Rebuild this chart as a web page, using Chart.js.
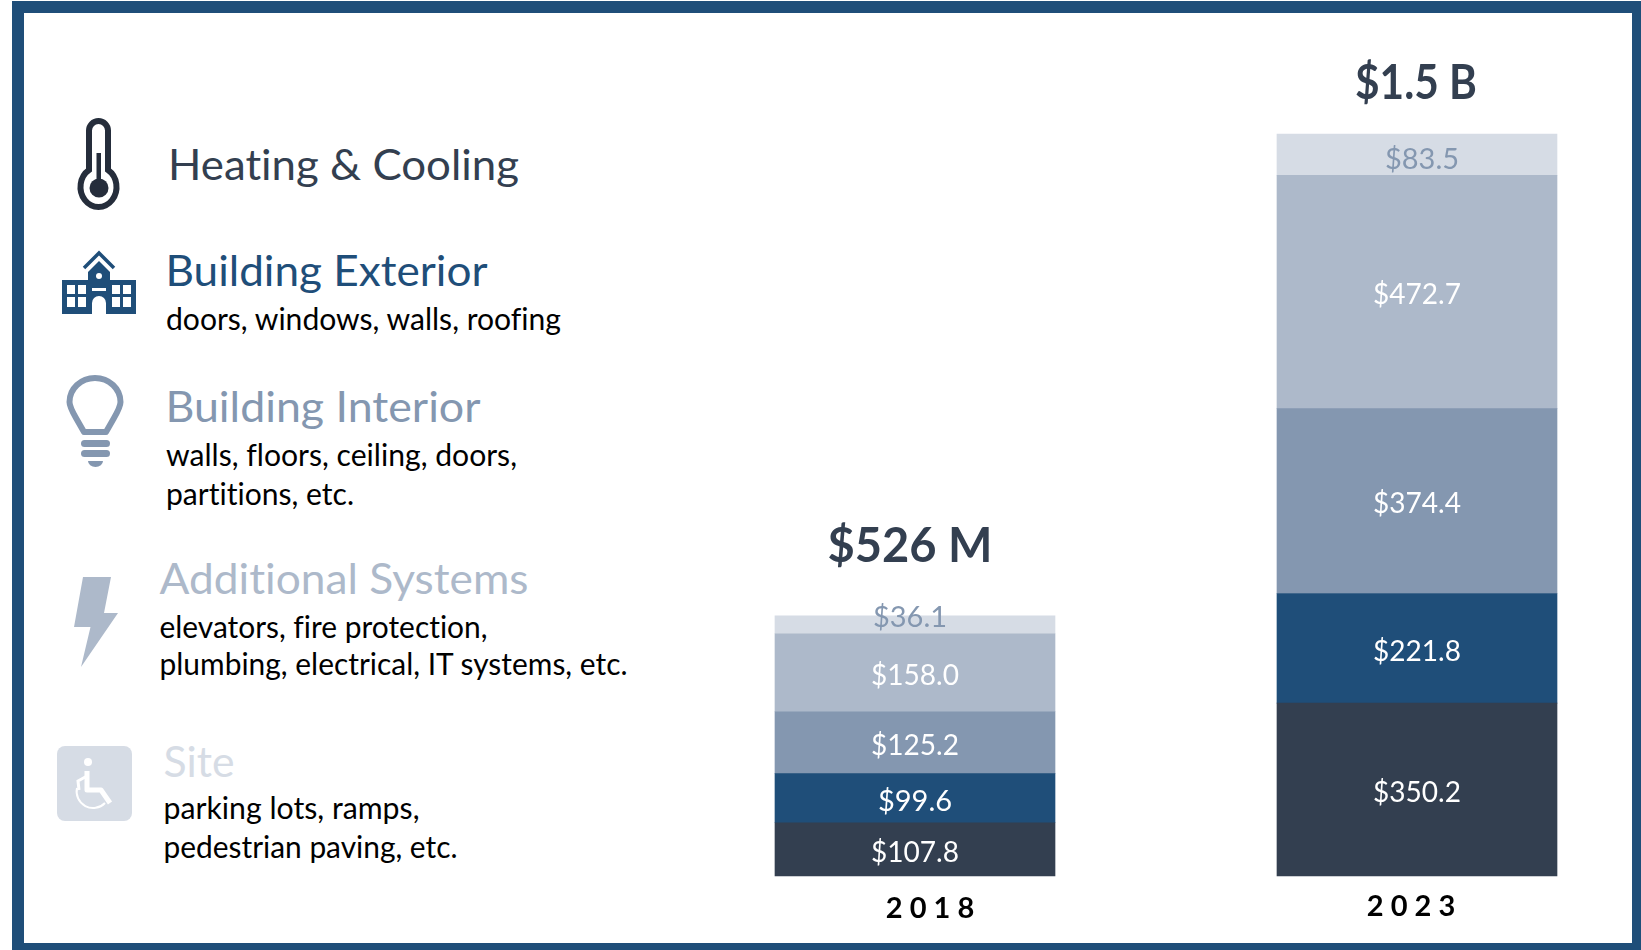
<!DOCTYPE html>
<html>
<head>
<meta charset="utf-8">
<title>Capital needs 2018 vs 2023</title>
<script src="https://cdn.jsdelivr.net/npm/chart.js@4"></script>
<style>
  html, body { margin: 0; padding: 0; background: #fff; overflow: hidden; }
  #page { position: relative; width: 1641px; height: 950px; }
  #legend, #grafico { position: absolute; left: 0; top: 0; }
  #legend text { font-family: Lato, sans-serif; font-variant-ligatures: none; }
</style>
</head>
<body>
<div id="page">
  <svg id="legend" width="1641" height="950" viewBox="0 0 1641 950">
    <!-- moldura -->
    <path fill="#1F4E79" fill-rule="evenodd" d="M12 1H1641V950H12Z M24 13V943H1632V13Z"/>

    <!-- termometro -->
    <path d="M89 170V130.5a9.5 9.5 0 0 1 19 0V170A18 20 0 1 1 89 170Z" fill="none" stroke="#252D3B" stroke-width="6"/>
    <circle cx="99" cy="188" r="9.5" fill="#252D3B"/>
    <rect x="96.5" y="153" width="4.5" height="30" fill="#252D3B"/>

    <!-- escola -->
    <g fill="#1F4E79">
      <rect x="62" y="280" width="74" height="34"/>
      <path d="M88 281V272L99 261L110 272V281Z"/>
      <path d="M84 268L99 253L114 268" fill="none" stroke="#1F4E79" stroke-width="3.5"/>
    </g>
    <g fill="#fff">
      <rect x="67" y="285" width="8" height="9"/><rect x="78" y="285" width="8" height="9"/>
      <rect x="67" y="297" width="8" height="10"/><rect x="78" y="297" width="8" height="10"/>
      <rect x="112" y="285" width="8" height="9"/><rect x="123" y="285" width="8" height="9"/>
      <rect x="112" y="297" width="8" height="10"/><rect x="123" y="297" width="8" height="10"/>
      <circle cx="99" cy="276" r="3"/>
      <rect x="92" y="288" width="14" height="3"/>
      <path d="M92 314V303a7 7 0 0 1 14 0V314Z"/>
    </g>

    <!-- lampada -->
    <path d="M84 432L76 418C72 411 69.5 406 69.5 402A25.5 24 0 0 1 120.5 402C120.5 406 118 411 114 418L106 432Z" fill="none" stroke="#8497B0" stroke-width="6" stroke-linejoin="round"/>
    <g fill="#8497B0">
      <rect x="81" y="440" width="29" height="7" rx="3.5"/>
      <rect x="81" y="450" width="29" height="7" rx="3.5"/>
      <path d="M88 461H103A7.5 6 0 0 1 88 461Z"/>
    </g>

    <!-- raio -->
    <path d="M83 577H111L104 613H118L81 667L90.5 627H74Z" fill="#ADB9CA"/>

    <!-- cadeirante -->
    <rect x="57" y="746" width="75" height="75" rx="8" fill="#D6DCE5"/>
    <circle cx="88" cy="762" r="4" fill="#fff"/>
    <path d="M87 771L87 790H101L110 803" fill="none" stroke="#fff" stroke-width="5" stroke-linejoin="round"/>
    <path d="M87 776L78 781L79 790" fill="none" stroke="#fff" stroke-width="3"/>
    <path d="M77 788A16.5 16.5 0 0 0 105 803" fill="none" stroke="#fff" stroke-width="2"/>
  </svg>
  <canvas id="grafico" width="1641" height="950"></canvas>
</div>

<script>
// dados (milhoes de dolares)
const anos = ['2 0 1 8', '2 0 2 3'];
const categorias = ['Heating & Cooling', 'Building Exterior', 'Building Interior', 'Additional Systems', 'Site'];
const aquecimento = [107.8, 350.2];
const exterior = [99.6, 221.8];
const interior = [125.2, 374.4];
const sistemas = [158.0, 472.7];
const terreno = [36.1, 83.5];
const totais = ['$526 M', '$1.5 B'];
const eixoMax = 1502.6;

const cores = ['#333F50', '#1F4E79', '#8497B0', '#ADB9CA', '#D6DCE5'];
const coresRotulo = ['#fff', '#fff', '#fff', '#fff', '#8497B0'];

const detalhes = [
    [],
    ['doors, windows, walls, roofing'],
    ['walls, floors, ceiling, doors,', 'partitions, etc.'],
    ['elevators, fire protection,', 'plumbing, electrical, IT systems, etc.'],
    ['parking lots, ramps,', 'pedestrian paving, etc.']
];

// x, linha de base e largura de cada texto da legenda
const posTitulos = [[168, 180, 351], [165.5, 286, 322], [165.5, 422, 315], [159.5, 594, 369], [163.5, 777, 71]];
const posDetalhes = [
    [],
    [[166, 330, 395]],
    [[166, 466, 351], [166, 505, 188]],
    [[159.5, 638, 328], [159.5, 675, 468]],
    [[163.5, 819, 256], [163.5, 858, 294]]
];

function escreverTexto(texto, pos, tamanho, cor) {
    var el = document.createElementNS('http://www.w3.org/2000/svg', 'text');
    el.textContent = texto;
    el.setAttribute('x', pos[0]);
    el.setAttribute('y', pos[1]);
    el.setAttribute('font-size', tamanho);
    el.setAttribute('fill', cor);
    el.setAttribute('textLength', pos[2]);
    el.setAttribute('lengthAdjust', 'spacingAndGlyphs');
    document.getElementById('legend').appendChild(el);
}

for (let i = 0; i < categorias.length; i++) {
    escreverTexto(categorias[i], posTitulos[i], 43, cores[i]);
    for (let j = 0; j < detalhes[i].length; j++) {
        escreverTexto(detalhes[i][j], posDetalhes[i][j], 31, '#000');
    }
}

// ajustes finos dos rotulos, em pixels
const ajusteTerreno = [[-5, -7], [5, 5]];
const ajusteTotal = [[-5, -69], [-1, -50]];
const larguraTotal = [165, 122];
const ajusteAno = [[15, 33], [-6, 31]];

const rotulos = {
    id: 'rotulos',
    afterDraw(chart) {
        const ctx = chart.ctx;
        ctx.save();
        ctx.textAlign = 'center';
        ctx.textBaseline = 'middle';

        // valores dentro das barras
        ctx.font = '29px Lato, sans-serif';
        chart.data.datasets.forEach(function (ds, d) {
            chart.getDatasetMeta(d).data.forEach(function (barra, i) {
                const centro = barra.getCenterPoint();
                const ajuste = d === 4 ? ajusteTerreno[i] : [0, 3];
                ctx.fillStyle = coresRotulo[d];
                ctx.fillText('$' + ds.data[i].toFixed(1), centro.x + ajuste[0], centro.y + ajuste[1], 88);
            });
        });

        // totais e anos
        const x = chart.scales.x;
        const y = chart.scales.y;
        anos.forEach(function (ano, i) {
            const topo = chart.getDatasetMeta(4).data[i].y;
            ctx.font = 'bold 48px Lato, sans-serif';
            ctx.fillStyle = '#333F50';
            ctx.fillText(totais[i], x.getPixelForTick(i) + ajusteTotal[i][0], topo + ajusteTotal[i][1], larguraTotal[i]);

            ctx.font = 'bold 29px Lato, sans-serif';
            ctx.fillStyle = '#000';
            ctx.fillText(ano, x.getPixelForTick(i) + ajusteAno[i][0], y.bottom + ajusteAno[i][1]);
        });
        ctx.restore();
    }
};

const series = [aquecimento, exterior, interior, sistemas, terreno];

var meuGrafico = new Chart(document.getElementById('grafico'), {
    type: 'bar',
    data: {
        labels: anos,
        datasets: series.map(function (valores, i) {
            return {
                label: categorias[i],
                data: valores,
                backgroundColor: cores[i],
                borderWidth: 0,
                barThickness: 280,
                clip: false
            };
        })
    },
    options: {
        responsive: false,
        animation: false,
        layout: { padding: { left: 915, right: 224, top: 134, bottom: 74 } },
        plugins: { legend: { display: false }, tooltip: { enabled: false } },
        scales: {
            x: { display: false, stacked: true, offset: false },
            y: { display: false, stacked: true, min: 0, max: eixoMax }
        }
    },
    plugins: [rotulos]
});
</script>
</body>
</html>
